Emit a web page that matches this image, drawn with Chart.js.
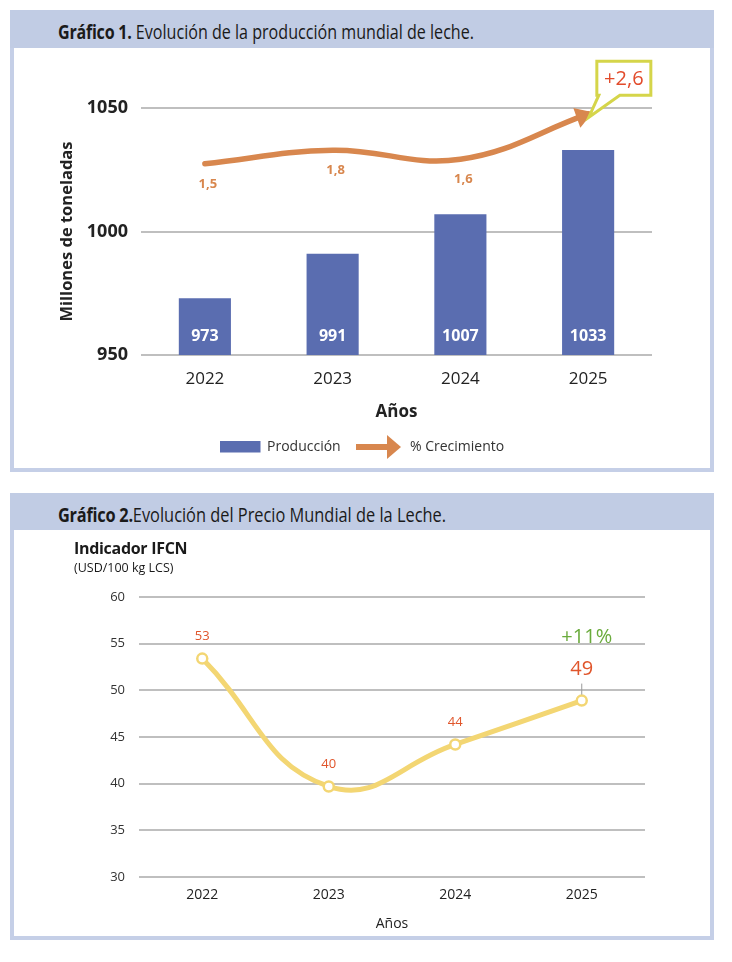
<!DOCTYPE html>
<html lang="es">
<head>
<meta charset="utf-8">
<script src="https://cdn.jsdelivr.net/npm/chart.js@4.4.1/dist/chart.umd.min.js"></script>
<style>
    body  { margin: 0; width: 732px; height: 962px; position: relative; background: #fff; font-family: 'Open Sans', sans-serif; }
    .panel { position: absolute; left: 10px; width: 704px; box-sizing: border-box; border: 4px solid #c5cfe7; border-top: 0; background: #fff; }
    .head  { position: absolute; left: -4px; right: -4px; top: 0; background: #c1cce4; }
    .ttl   { position: absolute; left: 48px; font-family: 'Open Sans', sans-serif; font-size: 20px; line-height: 20px; color: #1a1a1a; white-space: nowrap; transform-origin: 0 50%; }
    .ttl b { font-weight: 700; letter-spacing: -0.3px; }
    canvas { position: absolute; left: 0; }
    .ind   { position: absolute; left: 74px; color: #1a1a1a; white-space: nowrap; }
</style>
</head>
<body>

<div class="panel" style="top:10px;height:462px">
    <div class="head" style="height:38px">
        <div class="ttl" data-w="416" style="top:12px"><b>Gráfico 1.</b> Evolución de la producción mundial de leche.</div>
    </div>
    <canvas id="c1" width="696" height="420" style="top:38px"></canvas>
</div>

<div class="panel" style="top:493px;height:447px">
    <div class="head" style="height:37px">
        <div class="ttl" data-w="388" style="top:12px"><b>Gráfico 2.</b>Evolución del Precio Mundial de la Leche.</div>
    </div>
    <canvas id="c2" width="696" height="406" style="top:37px"></canvas>
</div>

<div class="ind" style="top:537px;font-size:16px;font-weight:700;letter-spacing:-0.3px">Indicador IFCN</div>
<div class="ind" style="top:559px;font-size:12.5px">(USD/100 kg LCS)</div>

<script>
// data
const years      = ['2022', '2023', '2024', '2025'];
const production = [973, 991, 1007, 1033];          // millones de toneladas
const growth     = [1.5, 1.8, 1.6, 2.6];            // % crecimiento
const price      = [53.4, 39.7, 44.2, 48.9];        // USD/100 kg LCS
const priceNote  = '+11%';

const BAR    = '#5a6db0';
const ORANGE = '#d8874e';
const YELLOW = '#f3d673';
const GRID   = '#bfbfbf';

Chart.defaults.font.family = "'Open Sans', sans-serif";

// the print titles use a condensed face, squeeze Open Sans to the same width
document.querySelectorAll('.ttl').forEach((el) => {
    const w = el.getBoundingClientRect().width;
    el.style.transform = 'scaleX(' + (parseFloat(el.dataset.w) / w) + ')';
});

const fmt   = (v) => v.toFixed(1).replace('.', ',');
const plain = (v) => String(v);

const chart1Extras = {
    id: 'chart1Extras',
    afterDatasetsDraw (chart)
    {
        const ctx  = chart.ctx;
        const area = chart.chartArea;

        ctx.save();

        // values inside bars
        ctx.font         = "bold 16px 'Open Sans'";
        ctx.fillStyle    = '#fff';
        ctx.textAlign    = 'center';
        ctx.textBaseline = 'middle';
        chart.getDatasetMeta(0).data.forEach((b, i) => {
            ctx.fillText(String(production[i]), b.x, area.bottom - 19);
        });

        // arrow head at the end of the growth line
        const pts  = chart.getDatasetMeta(1).data;
        const last = pts[pts.length - 1];
        let dx     = last.x - last.cp1x;
        let dy     = last.y - last.cp1y;
        const len  = Math.hypot(dx, dy) || 1;
        dx /= len;
        dy /= len;

        const tipX = last.x + dx * 5;
        const tipY = last.y + dy * 5;
        const bx   = tipX - dx * 17;
        const by   = tipY - dy * 17;

        ctx.fillStyle = ORANGE;
        ctx.beginPath();
        ctx.moveTo(tipX, tipY);
        ctx.lineTo(bx - dy * 10.5, by + dx * 10.5);
        ctx.lineTo(bx + dy * 10.5, by - dx * 10.5);
        ctx.closePath();
        ctx.fill();

        // growth labels under the line
        ctx.font      = "bold 13px 'Open Sans'";
        ctx.fillStyle = ORANGE;
        for (let i = 0; i < pts.length - 1; ++i) {
            ctx.fillText(fmt(growth[i]), pts[i].x + 3, pts[i].y + 20);
        }

        // callout with the last value
        const l = tipX + 4, r = tipX + 58, t = tipY - 51, b = tipY - 17;
        ctx.beginPath();
        ctx.moveTo(l, t);
        ctx.lineTo(r, t);
        ctx.lineTo(r, b);
        ctx.lineTo(tipX + 27, b);
        ctx.lineTo(tipX - 4, tipY + 5);
        ctx.lineTo(tipX + 6, b);
        ctx.lineTo(l, b);
        ctx.closePath();
        ctx.fillStyle   = '#fff';
        ctx.fill();
        ctx.lineWidth   = 3;
        ctx.strokeStyle = '#d5d54a';
        ctx.stroke();

        ctx.font      = "20px 'Open Sans'";
        ctx.fillStyle = '#e24b2b';
        ctx.fillText('+' + fmt(growth[growth.length - 1]), (l + r) / 2, (t + b) / 2 + 1);

        ctx.restore();
    },
    afterDraw (chart)
    {
        const ctx = chart.ctx;
        const ds  = chart.data.datasets;

        ctx.save();
        ctx.textBaseline = 'middle';
        ctx.textAlign    = 'left';
        ctx.font         = "14px 'Open Sans'";

        ctx.fillStyle = BAR;
        ctx.fillRect(206, 393, 40.5, 11.5);
        ctx.fillStyle = '#333';
        ctx.fillText(ds[0].label, 253, 399);

        ctx.fillStyle = ORANGE;
        ctx.fillRect(342, 396, 32, 6);
        ctx.beginPath();
        ctx.moveTo(373, 387);
        ctx.lineTo(387, 399);
        ctx.lineTo(373, 411);
        ctx.closePath();
        ctx.fill();
        ctx.fillStyle = '#333';
        ctx.fillText(ds[1].label, 396, 399);

        ctx.restore();
    }
};

new Chart(document.getElementById('c1'), {
    data: {
        labels: years,
        datasets: [
            {
                type: 'bar',
                label: 'Producción',
                data: production,
                backgroundColor: BAR,
                barPercentage: 0.8,
                categoryPercentage: 0.51,
                yAxisID: 'y',
                order: 2
            },
            {
                type: 'line',
                label: '% Crecimiento',
                data: growth,
                yAxisID: 'y2',
                borderColor: ORANGE,
                borderWidth: 5.5,
                borderCapStyle: 'round',
                pointRadius: 0,
                tension: 0.4,
                order: 1
            }
        ]
    },
    options: {
        responsive: false,
        animation: false,
        layout: { padding: { left: 0, top: 60, right: 58, bottom: 0 } },
        plugins: { legend: { display: false }, tooltip: { enabled: false } },
        scales: {
            x: {
                grid: { display: false, drawTicks: false },
                border: { display: false },
                ticks: { padding: 14, color: '#222', font: { size: 17 } },
                title: { display: true, text: 'Años', color: '#222', font: { size: 17, weight: 'bold' }, padding: { top: 0, bottom: 46 } },
                afterFit (s) { s.height = 113; }
            },
            y: {
                min: 950,
                max: 1050,
                ticks: { stepSize: 50, padding: 13, color: '#222', font: { size: 18, weight: 'bold' }, callback: plain },
                grid: { color: GRID, lineWidth: 2, drawTicks: false },
                border: { display: false },
                title: { display: true, text: 'Millones de toneladas', color: '#222', font: { size: 16.5, weight: 'bold' }, padding: { top: 43, bottom: 0 } },
                afterFit (s) { s.width = 127; }
            },
            y2: { display: false, min: -2.71, max: 2.73 }
        }
    },
    plugins: [chart1Extras]
});

const chart2Labels = {
    id: 'chart2Labels',
    afterDatasetsDraw (chart)
    {
        const ctx = chart.ctx;
        const pts = chart.getDatasetMeta(0).data;
        const n   = pts.length;

        ctx.save();
        ctx.textAlign    = 'center';
        ctx.textBaseline = 'middle';
        ctx.fillStyle    = '#e0552b';
        ctx.font         = "13px 'Open Sans'";
        for (let i = 0; i < n - 1; ++i) {
            ctx.fillText(String(Math.round(price[i])), pts[i].x, pts[i].y - 22);
        }

        const p = pts[n - 1];
        ctx.strokeStyle = '#9a9a9a';
        ctx.lineWidth   = 1;
        ctx.beginPath();
        ctx.moveTo(p.x, p.y - 17);
        ctx.lineTo(p.x, p.y - 6);
        ctx.stroke();

        ctx.font = "20px 'Open Sans'";
        ctx.fillText(String(Math.round(price[n - 1])), p.x, p.y - 31);
        ctx.fillStyle = '#6aab3c';
        ctx.fillText(priceNote, p.x + 5, p.y - 63);
        ctx.restore();
    }
};

new Chart(document.getElementById('c2'), {
    type: 'line',
    data: {
        labels: years,
        datasets: [{
            data: price,
            borderColor: YELLOW,
            borderWidth: 5,
            tension: 0.45,
            pointRadius: 5,
            pointBorderWidth: 2.5,
            pointBackgroundColor: '#fff',
            pointBorderColor: YELLOW
        }]
    },
    options: {
        responsive: false,
        animation: false,
        layout: { padding: { left: 0, top: 67, right: 65, bottom: 0 } },
        plugins: { legend: { display: false }, tooltip: { enabled: false } },
        scales: {
            x: {
                offset: true,
                grid: { display: false, drawTicks: false },
                border: { display: false },
                ticks: { padding: 10, color: '#222', font: { size: 14 } },
                title: { display: true, text: 'Años', color: '#222', font: { size: 14 }, padding: { top: 0, bottom: 4 } },
                afterFit (s) { s.height = 59; }
            },
            y: {
                min: 30,
                max: 60,
                ticks: { stepSize: 5, padding: 14, color: '#333', font: { size: 13 } },
                grid: { color: GRID, lineWidth: 2, drawTicks: false },
                border: { display: false },
                afterFit (s) { s.width = 125; }
            }
        }
    },
    plugins: [chart2Labels]
});
</script>
</body>
</html>
